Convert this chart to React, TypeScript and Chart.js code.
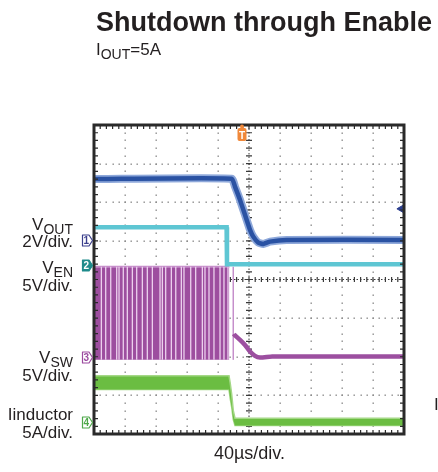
import React, { useEffect, useRef, useState } from 'react';
import { Chart, registerables } from 'chart.js';

Chart.register(...registerables);

// ---- time base (µs), 40 µs/div, 10 divisions ----
const timeMin = -200;
const timeMax = 200;
const triggerTime = -9.4;

// ---- channel 1: VOUT (2 V/div) ----
const voutTime = [-200, -22.3, -18.1, -11.6, -5.2, 1.3, 5.5, 12.0, 18.4, 27.1, 48.6, 200];
const voutVolts = [3.2, 3.22, 2.81, 2.12, 1.35, 0.57, 0.22, -0.09, -0.16, -0.04, 0.05, 0.05];
const voutTrigLevel = { time: 196, volts: 1.66 };

// ---- channel 2: VEN (5 V/div) ----
const venTime = [-200, -28.9, -28.4, 200];
const venVolts = [4.95, 4.95, 0.18, 0.18];

// ---- channel 3: VSW (5 V/div) ----
const swBurstTime = [-200, -25.4];
const swHighVolts = [11.8, 11.8];
const swLowVolts = -0.25;
const swGapTimes = [
  -190.5, -184.9, -178.4, -170.7, -167.7, -162.2, -157.0, -150.5, -144.9, -137.6,
  -131.2, -124.7, -114.8, -111.8, -107.5, -100.2, -94.5, -87.3, -83.9, -75.2,
  -68.8, -60.2, -56.8, -51.6, -45.2, -37.4, -32.3, -27.1,
];
const swLastPulseTime = -20.3;
const swTailTime = [-19.4, -18.7, -11.6, -5.2, 1.3, 7.7, 14.2, 30, 200];
const swTailVolts = [3.1, 2.98, 2.33, 1.68, 0.82, 0.26, 0.04, 0.17, 0.17];

// ---- channel 4: Iinductor (5 A/div) ----
const ilTime = [-200, -25.8, -24.2, -22.3, -20.3, -18.1, 200];
const ilUpper = [6.0, 6.0, 5.0, 3.6, 1.5, 0.5, 0.5];
const ilLower = [4.2, 4.2, 3.0, 1.9, 0.3, -0.45, -0.45];

// ---- vertical scaling per channel: [units/div, ground position in divisions from bottom] ----
const ch1Scale = [2, 5.0];
const ch2Scale = [5, 4.36];
const ch3Scale = [5, 1.97];
const ch4Scale = [5, 0.31];

const FONT = '"Liberation Sans", Arial, Helvetica, sans-serif';

const pts = (xs: number[], ys: number[]) => xs.map((x, i) => ({ x, y: ys[i] }));
const axisFor = (s: number[]) => ({
  type: 'linear' as const,
  display: false,
  min: -s[1] * s[0],
  max: (8 - s[1]) * s[0],
});

const scopeGrid = {
  id: 'scopeGrid',
  beforeDatasetsDraw(chart: any) {
    const { ctx, chartArea: a } = chart;
    const dx = (a.right - a.left) / 10;
    const dy = (a.bottom - a.top) / 8;
    ctx.save();
    ctx.fillStyle = '#8a8a8a';
    for (let i = 1; i < 10; i++) {
      if (i === 5) continue;
      const x = a.left + i * dx;
      for (let j = 1; j < 40; j++) {
        const y = a.top + (j * dy) / 5;
        ctx.fillRect(Math.round(x) - 0.5, Math.round(y) - 0.5, 1.4, 1.4);
      }
    }
    for (let i = 1; i < 8; i++) {
      if (i === 4) continue;
      const y = a.top + i * dy;
      for (let j = 1; j < 50; j++) {
        const x = a.left + (j * dx) / 5;
        ctx.fillRect(Math.round(x) - 0.5, Math.round(y) - 0.5, 1.4, 1.4);
      }
    }
    const cx = a.left + 5 * dx;
    const cy = a.top + 4 * dy;
    ctx.strokeStyle = '#3a3a3a';
    ctx.lineWidth = 1;
    ctx.setLineDash([1.5, 2]);
    ctx.beginPath();
    ctx.moveTo(cx, a.top);
    ctx.lineTo(cx, a.bottom);
    ctx.moveTo(a.left, cy);
    ctx.lineTo(a.right, cy);
    ctx.stroke();
    ctx.setLineDash([]);
    ctx.lineWidth = 1.2;
    ctx.beginPath();
    for (let j = 1; j < 50; j++) {
      const x = a.left + (j * dx) / 5;
      ctx.moveTo(x, cy - 2.5);
      ctx.lineTo(x, cy + 2.5);
    }
    for (let j = 1; j < 40; j++) {
      const y = a.top + (j * dy) / 5;
      ctx.moveTo(cx - 3, y);
      ctx.lineTo(cx + 3, y);
    }
    ctx.stroke();
    ctx.restore();
  },
  afterDatasetsDraw(chart: any) {
    const { ctx, chartArea: a } = chart;
    const dx = (a.right - a.left) / 10;
    const dy = (a.bottom - a.top) / 8;
    ctx.save();
    ctx.strokeStyle = '#2a2a2a';
    ctx.lineWidth = 1.2;
    ctx.beginPath();
    for (let j = 1; j < 50; j++) {
      const x = a.left + (j * dx) / 5;
      ctx.moveTo(x, a.top);
      ctx.lineTo(x, a.top + 4);
      ctx.moveTo(x, a.bottom);
      ctx.lineTo(x, a.bottom - 4);
    }
    for (let j = 1; j < 40; j++) {
      const y = a.top + (j * dy) / 5;
      ctx.moveTo(a.left, y);
      ctx.lineTo(a.left + 4, y);
      ctx.moveTo(a.right, y);
      ctx.lineTo(a.right - 4, y);
    }
    ctx.stroke();
    ctx.lineWidth = 3;
    ctx.strokeRect(a.left, a.top, a.right - a.left, a.bottom - a.top);
    ctx.restore();
  },
};

function Txt(props: { x: number; base: number; size: number; align?: 'left' | 'right' | 'center'; bold?: boolean; children: any }) {
  const { x, base, size, align = 'left', bold, children } = props;
  const style: any = {
    position: 'absolute',
    top: base - 0.8465 * size,
    fontSize: size,
    lineHeight: `${size}px`,
    fontWeight: bold ? 'bold' : 'normal',
    whiteSpace: 'nowrap',
    color: '#231f20',
    fontFamily: FONT,
  };
  if (align === 'left') style.left = x;
  else if (align === 'right') style.right = 438 - x;
  else {
    style.left = x - 100;
    style.width = 200;
    style.textAlign = 'center';
  }
  return <div style={style}>{children}</div>;
}

const Sub = (p: { children: any; size?: number }) => (
  <span style={{ fontSize: p.size ?? 14, position: 'relative', top: 4 }}>{p.children}</span>
);

function ChMarker(p: { y: number; label: string; color: string; filled?: boolean }) {
  return (
    <svg
      width={13}
      height={13}
      style={{ position: 'absolute', left: 81, top: p.y - 6.5 }}
    >
      <path
        d="M1.5 1 H8 L11.5 6.5 L8 12 H1.5 Z"
        fill={p.filled ? p.color : '#ffffff'}
        stroke={p.color}
        strokeWidth={1.2}
        strokeLinejoin="round"
      />
      <text
        x={5.3}
        y={10.3}
        textAnchor="middle"
        fontSize={10}
        fontWeight="bold"
        fontFamily={FONT}
        fill={p.filled ? '#ffffff' : p.color}
      >
        {p.label}
      </text>
    </svg>
  );
}

export default function App() {
  const ref = useRef<HTMLCanvasElement>(null);
  const [pos, setPos] = useState<{ g: number[]; trig: number } | null>(null);

  useEffect(() => {
    const gapData: any[] = [];
    swGapTimes.forEach((t) => {
      gapData.push({ x: t, y: swLowVolts }, { x: t, y: swHighVolts[0] }, { x: t, y: null });
    });
    const chart = new Chart(ref.current!, {
      type: 'line',
      data: {
        datasets: [
          {
            label: 'VOUT level',
            data: [{ x: voutTrigLevel.time, y: voutTrigLevel.volts }],
            yAxisID: 'y1',
            showLine: false,
            pointStyle: 'triangle',
            rotation: 270,
            pointRadius: 4,
            pointBackgroundColor: '#2b3f8f',
            pointBorderColor: '#2b3f8f',
            order: 0,
          } as any,
          {
            label: 'VOUT',
            data: pts(voutTime, voutVolts),
            yAxisID: 'y1',
            borderColor: '#2a52a3',
            borderWidth: 4.5,
            pointRadius: 0,
            tension: 0.15,
            order: 1,
          },
          {
            label: 'VOUT halo',
            data: pts(voutTime, voutVolts),
            yAxisID: 'y1',
            borderColor: '#8ea8da',
            borderWidth: 8,
            pointRadius: 0,
            tension: 0.15,
            order: 2,
          },
          {
            label: 'VEN',
            data: pts(venTime, venVolts),
            yAxisID: 'y2',
            borderColor: '#5ec6d3',
            borderWidth: 4.5,
            pointRadius: 0,
            order: 3,
          },
          {
            label: 'VSW tail',
            data: pts(swTailTime, swTailVolts),
            yAxisID: 'y3',
            borderColor: '#9c4fa0',
            borderWidth: 4.5,
            pointRadius: 0,
            tension: 0.2,
            order: 4,
          },
          {
            label: 'VSW last pulse',
            data: [
              { x: swLastPulseTime, y: swLowVolts },
              { x: swLastPulseTime, y: swHighVolts[0] },
            ],
            yAxisID: 'y3',
            borderColor: '#c68fcb',
            borderWidth: 1.5,
            pointRadius: 0,
            order: 5,
          },
          {
            label: 'VSW gaps',
            data: gapData,
            yAxisID: 'y3',
            borderColor: '#ecd0ee',
            borderWidth: 1.3,
            pointRadius: 0,
            spanGaps: false,
            order: 6,
          },
          {
            label: 'VSW',
            data: pts(swBurstTime, swHighVolts),
            yAxisID: 'y3',
            borderColor: '#c58cc9',
            borderWidth: 2,
            backgroundColor: '#9d4e9f',
            fill: { value: swLowVolts },
            pointRadius: 0,
            order: 7,
          },
          {
            label: 'Iinductor',
            data: pts(ilTime, ilUpper),
            yAxisID: 'y4',
            borderColor: '#a4d886',
            borderWidth: 1.5,
            backgroundColor: '#6bbd42',
            fill: '+1',
            pointRadius: 0,
            order: 8,
          },
          {
            label: 'Iinductor low',
            data: pts(ilTime, ilLower),
            yAxisID: 'y4',
            borderColor: '#a4d886',
            borderWidth: 1.5,
            pointRadius: 0,
            order: 9,
          },
        ],
      },
      options: {
        animation: false,
        responsive: false,
        devicePixelRatio: 1,
        layout: { padding: { left: 94, top: 125, right: 34, bottom: 38 } },
        plugins: { legend: { display: false }, tooltip: { enabled: false }, title: { display: false } },
        events: [],
        scales: {
          x: { type: 'linear', display: false, min: timeMin, max: timeMax },
          y1: axisFor(ch1Scale),
          y2: axisFor(ch2Scale),
          y3: axisFor(ch3Scale),
          y4: axisFor(ch4Scale),
        },
      },
      plugins: [scopeGrid],
    });
    const s: any = chart.scales;
    setPos({
      g: [s.y1.getPixelForValue(0), s.y2.getPixelForValue(0), s.y3.getPixelForValue(0), s.y4.getPixelForValue(0)],
      trig: s.x.getPixelForValue(triggerTime),
    });
    return () => chart.destroy();
  }, []);

  return (
    <div style={{ position: 'absolute', left: 0, top: 0, width: 438, height: 472, background: '#fff', fontFamily: FONT }}>
      <canvas ref={ref} width={438} height={472} style={{ position: 'absolute', left: 0, top: 0 }} />
      <Txt x={96} base={32} size={27} bold>Shutdown through Enable</Txt>
      <Txt x={96} base={55} size={17}>
        I<Sub>OUT</Sub>=5A
      </Txt>

      <Txt x={73} base={230} size={17} align="right">V<Sub>OUT</Sub></Txt>
      <Txt x={73} base={247} size={17} align="right">2V/div.</Txt>
      <Txt x={73} base={273} size={17} align="right">V<Sub>EN</Sub></Txt>
      <Txt x={73} base={291} size={17} align="right">5V/div.</Txt>
      <Txt x={73} base={363} size={17} align="right">V<Sub>SW</Sub></Txt>
      <Txt x={73} base={381} size={17} align="right">5V/div.</Txt>
      <Txt x={73} base={420} size={17} align="right">Iinductor</Txt>
      <Txt x={73} base={438} size={17} align="right">5A/div.</Txt>
      <Txt x={249.5} base={459} size={18} align="center">40µs/div.</Txt>
      <Txt x={434} base={410} size={17}>I</Txt>

      {pos && (
        <>
          <ChMarker y={pos.g[0]} label="1" color="#3b3f8c" />
          <ChMarker y={pos.g[1]} label="2" color="#1f8b8b" filled />
          <ChMarker y={pos.g[2]} label="3" color="#9b4a9f" />
          <ChMarker y={pos.g[3]} label="4" color="#4ea84a" />
          <svg width={10} height={18} style={{ position: 'absolute', left: pos.trig - 5, top: 124 }}>
            <circle cx={5} cy={2.5} r={2} fill="#f0883a" />
            <rect x={0.5} y={4} width={9} height={13} rx={2} fill="#f0883a" />
            <text x={5} y={14.5} textAnchor="middle" fontSize={10} fontWeight="bold" fontFamily={FONT} fill="#ffffff">
              T
            </text>
          </svg>
        </>
      )}
    </div>
  );
}
